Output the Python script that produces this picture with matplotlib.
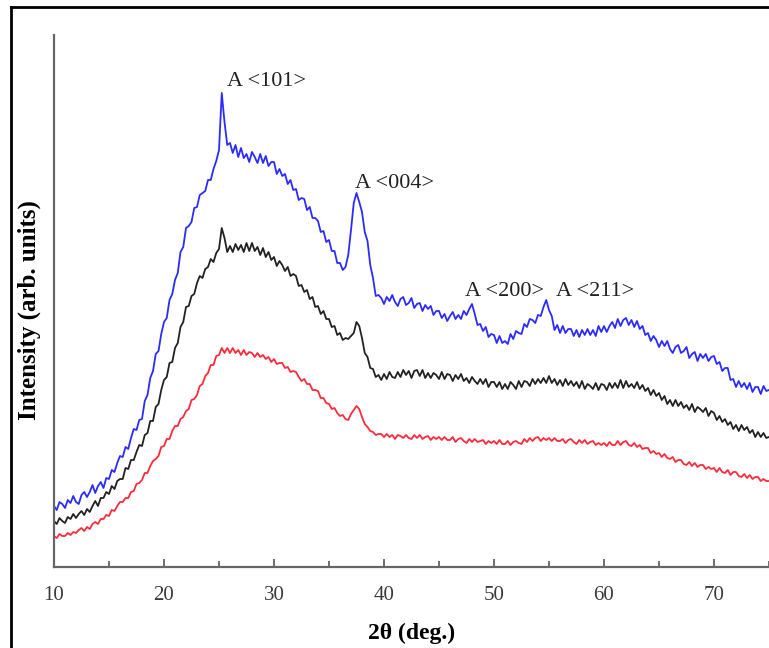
import numpy as np
import matplotlib
matplotlib.use("Agg")
import matplotlib.pyplot as plt
from matplotlib.lines import Line2D
from matplotlib.ticker import MultipleLocator

# 2-theta grid (deg), 0.25 deg steps from 10 to 75
two_theta = np.arange(10.0, 75.001, 0.25)

# Intensity (arb. units), one row per degree (x.00, x.25, x.50, x.75)
blue = [
    61, 57, 65, 63,  59, 67, 64, 71,  65, 63, 72, 75,  70, 75, 82, 74,
    81, 85, 79, 89,  88, 97, 95, 104,  111, 110, 120, 118,  129, 138, 137, 147,
    148, 166, 172, 189,  196, 213, 216, 233,  245, 249, 267, 273,  287, 294, 315, 320,
    339, 341, 345, 359,  360, 372, 374, 376,  387, 387, 398, 406,  417, 474, 445, 422,
    424, 414, 422, 410,  419, 409, 413, 405,  415, 410, 404, 413,  404, 411, 401, 405,
    405, 393, 398, 391,  393, 383, 387, 377,  378, 367, 369, 368,  357, 360, 349, 349,
    346, 335, 336, 325,  327, 316, 316, 304,  304, 297, 300, 312,  337, 364, 374, 365,
    355, 335, 326, 302,  289, 271, 272, 269,  263, 270, 266, 272,  265, 261, 268, 270,
    262, 264, 269, 259,  263, 264, 256, 262,  258, 261, 252, 256,  256, 249, 253, 246,
    251, 255, 248, 252,  248, 256, 252, 258,  263, 253, 242, 243,  236, 240, 230, 233,
    232, 224, 231, 224,  226, 223, 233, 228,  236, 234, 233, 243,  240, 248, 247, 244,
    252, 251, 260, 267,  257, 251, 237, 242,  234, 241, 234, 238,  238, 231, 237, 230,
    237, 232, 238, 232,  237, 231, 241, 235,  241, 235, 241, 245,  239, 248, 241, 247,
    249, 242, 247, 240,  246, 238, 241, 232,  234, 226, 231, 227,  220, 226, 221, 226,
    218, 214, 220, 222,  214, 216, 220, 209,  213, 215, 206, 213,  209, 213, 206, 210,
    211, 203, 205, 196,  199, 199, 187, 188,  180, 186, 180, 184,  178, 184, 175, 180,
    180, 173, 181, 176,  177,
]

black = [
    46, 43, 49, 46,  44, 50, 48, 53,  49, 53, 56, 52,  58, 55, 61, 66,
    61, 69, 69, 75,  73, 81, 78, 86,  88, 88, 99, 98,  107, 107, 115, 122,
    121, 132, 134, 146,  146, 160, 163, 177,  187, 190, 204, 205,  219, 224, 240, 245,
    260, 261, 271, 273,  284, 291, 289, 298,  300, 308, 305, 314,  318, 339, 329, 315,
    321, 315, 323, 317,  322, 315, 324, 316,  324, 316, 320, 312,  319, 310, 315, 307,
    310, 301, 306, 302,  296, 300, 291, 293,  291, 281, 282, 275,  277, 268, 270, 260,
    261, 253, 256, 248,  248, 240, 241, 232,  234, 227, 229, 228,  231, 234, 245, 241,
    229, 214, 210, 199,  198, 190, 192, 187,  193, 188, 195, 190,  189, 195, 190, 197,
    192, 196, 189, 196,  197, 191, 197, 189,  194, 189, 194, 192,  188, 195, 188, 193,
    192, 186, 192, 188,  193, 186, 189, 184,  190, 186, 183, 188,  183, 188, 180, 185,
    185, 180, 185, 178,  183, 178, 185, 182,  178, 186, 180, 186,  185, 181, 188, 183,
    188, 184, 189, 184,  191, 184, 188, 182,  187, 181, 188, 182,  186, 181, 185, 179,
    186, 178, 183, 181,  178, 184, 177, 183,  182, 177, 184, 179,  184, 179, 187, 179,
    186, 180, 183, 179,  185, 178, 182, 176,  179, 172, 177, 171,  174, 167, 171, 163,
    167, 161, 167, 161,  165, 159, 162, 157,  163, 155, 160, 158,  155, 159, 151, 156,
    154, 147, 151, 145,  148, 142, 145, 138,  142, 136, 142, 137,  140, 134, 137, 130,
    135, 130, 134, 129,  130,
]

red = [
    31, 29, 33, 31,  31, 34, 32, 35,  34, 37, 39, 36,  40, 38, 43, 45,
    43, 48, 48, 52,  51, 57, 56, 61,  65, 65, 69, 69,  75, 76, 83, 84,
    87, 94, 94, 101,  106, 108, 111, 120,  121, 128, 128, 136,  141, 141, 148, 150,
    156, 158, 167, 168,  172, 181, 183, 191,  194, 202, 202, 211,  212, 219, 214, 219,
    214, 219, 214, 217,  212, 217, 212, 215,  214, 210, 214, 210,  212, 208, 210, 205,
    208, 203, 204, 204,  199, 200, 195, 196,  195, 190, 186, 188,  183, 183, 177, 177,
    176, 169, 169, 164,  163, 158, 159, 154,  151, 152, 148, 147,  153, 157, 161, 158,
    150, 143, 140, 136,  135, 132, 133, 133,  130, 133, 130, 132,  128, 132, 131, 129,
    132, 129, 128, 132,  129, 132, 128, 130,  131, 127, 130, 128,  130, 127, 130, 127,
    127, 130, 125, 128,  129, 126, 124, 128,  125, 128, 125, 126,  127, 123, 126, 124,
    126, 123, 127, 123,  123, 126, 122, 125,  126, 124, 123, 128,  125, 129, 126, 129,
    130, 126, 129, 127,  129, 126, 129, 126,  126, 128, 124, 127,  128, 125, 123, 127,
    124, 127, 123, 125,  126, 122, 124, 122,  124, 121, 125, 122,  122, 126, 122, 125,
    126, 122, 121, 124,  120, 122, 118, 119,  119, 114, 116, 113,  114, 110, 113, 109,
    108, 110, 105, 107,  107, 103, 102, 105,  101, 104, 100, 102,  102, 98, 100, 98,
    99, 95, 99, 95,  94, 97, 92, 95,  95, 91, 90, 93,  89, 92, 88, 90,
    90, 86, 88, 86,  86,
]

peak_labels = ["A <101>", "A <004>", "A <200>", "A <211>"]
peak_label_x = [25.7, 37.4, 47.4, 55.6]
peak_label_y = [486, 384, 275, 275]

x_ticks = [10, 20, 30, 40, 50, 60, 70]

SERIF = ["Liberation Serif", "DejaVu Serif"]

fig = plt.figure(figsize=(7.69, 6.48), dpi=100)
ax = fig.add_axes([54 / 769, 1 - 567 / 648, 1 - 54 / 769, (567 - 35) / 648])

ax.plot(two_theta, red, color="#ff2a3c", lw=1.3)
ax.plot(two_theta, black, color="#222222", lw=1.3)
ax.plot(two_theta, blue, color="#2b2bff", lw=1.3)

ax.set_xlim(10, 75)
ax.set_ylim(0, 532)
ax.set_xticks(x_ticks)
ax.xaxis.set_minor_locator(MultipleLocator(5))
ax.set_yticks([])
ax.tick_params(axis="x", which="major", direction="in", length=6, width=1.2,
               color="#555555", labelsize=15, labelcolor="#3a3a3a", pad=14)
ax.tick_params(axis="x", which="minor", direction="in", length=4, width=1.2,
               color="#555555")
for lab in ax.get_xticklabels():
    lab.set_family(SERIF)

for s in ["top", "right"]:
    ax.spines[s].set_visible(False)
for s in ["left", "bottom"]:
    ax.spines[s].set_color("#666666")
    ax.spines[s].set_linewidth(1.6)

ax.set_xlabel("2θ (deg.)", family=SERIF, fontsize=17, fontweight="bold", va="center")
ax.xaxis.set_label_coords(0.5, -(633 - 567) / 532)
ax.set_ylabel("Intensity (arb. units)", family=SERIF, fontsize=18, fontweight="bold",
              va="center")
ax.yaxis.set_label_coords(-(54 - 29) / 715, (567 - 310) / 532)

for t, px, py in zip(peak_labels, peak_label_x, peak_label_y):
    ax.text(px, py, t, family=SERIF, fontsize=16, color="#222222",
            ha="left", va="center")

# outer frame (left and top edges visible in the reference)
fig.add_artist(Line2D([11 / 769, 11 / 769], [0, 1 - 7 / 648], transform=fig.transFigure,
                      color="black", lw=2))
fig.add_artist(Line2D([11 / 769, 1], [1 - 7 / 648, 1 - 7 / 648], transform=fig.transFigure,
                      color="black", lw=2))

fig.savefig("out.png", dpi=100)
